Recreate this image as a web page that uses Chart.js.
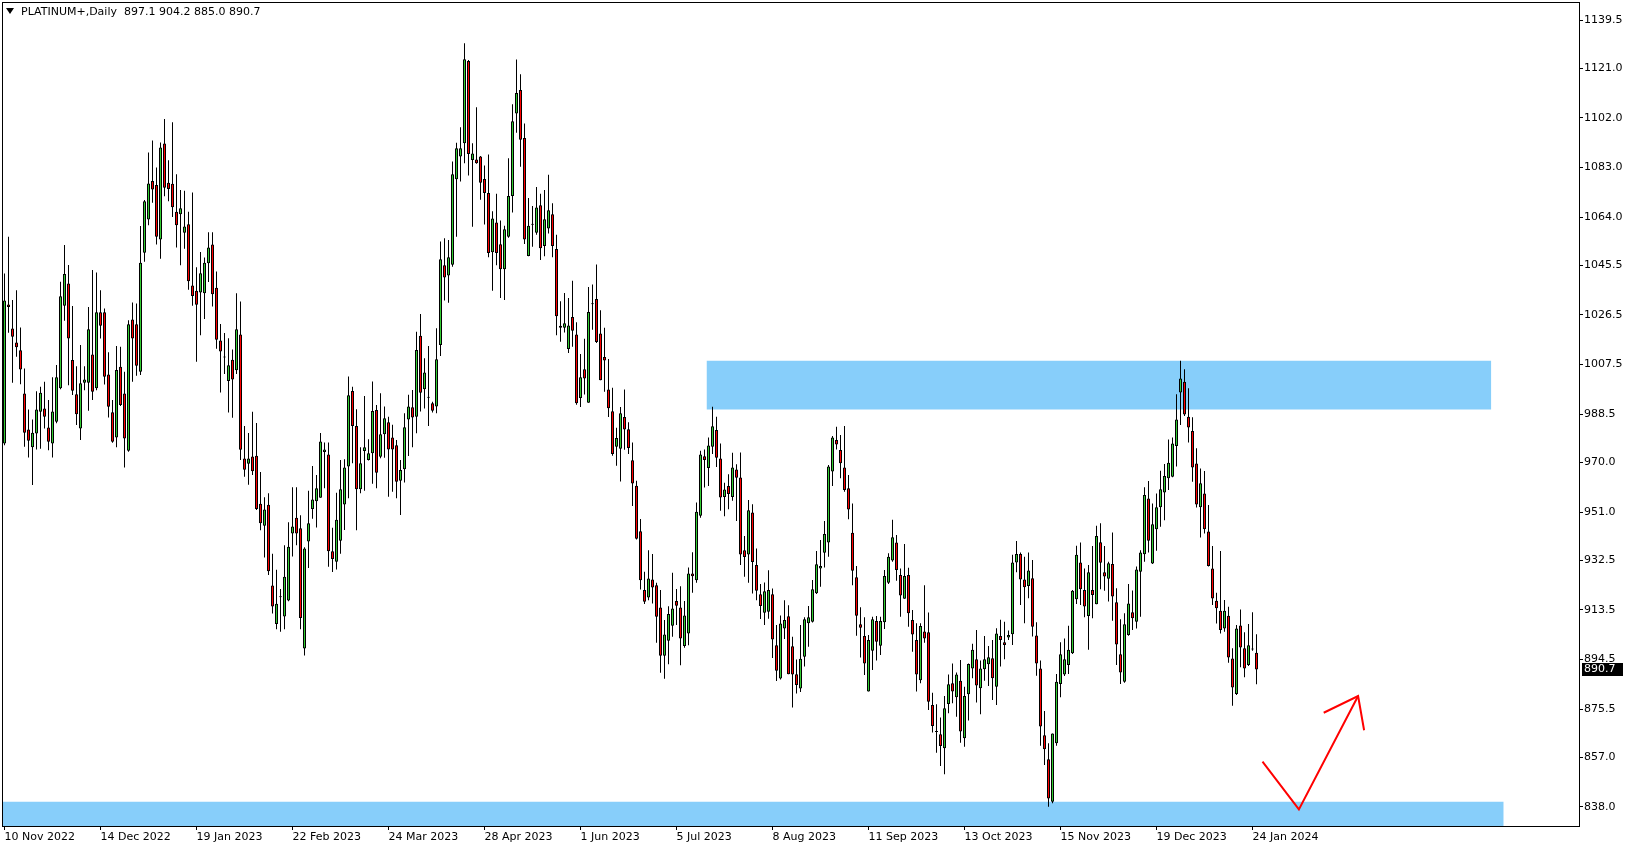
<!DOCTYPE html>
<html>
<head>
<meta charset="utf-8">
<title>PLATINUM+ Daily</title>
<script src="https://cdn.jsdelivr.net/npm/chart.js@4.4.1/dist/chart.umd.min.js"></script>
<style>
  html, body { margin: 0; padding: 0; background: #fff; }
  #wrap { position: relative; width: 1629px; height: 850px; overflow: hidden; }
  #chart { display: block; }
  #header { position: absolute; left: 6px; top: 5px; font: 11px 'DejaVu Sans', sans-serif; line-height: 14px; color: #000; white-space: pre; }
  #header .tri { display: inline-block; width: 0; height: 0; border-left: 4px solid transparent; border-right: 4px solid transparent; border-top: 6px solid #000; margin-right: 7px; vertical-align: 1px; }
</style>
</head>
<body>
<div id="wrap">
  <canvas id="chart" width="1629" height="850"></canvas>
  <div id="header"><span class="tri"></span><span id="headerText"></span></div>
</div>
<script>
// Daily bars, one per trading day starting 10 Nov 2022
const opens = [
  977.3,1030.5,1021.3,1016.0,1013.0,996.4,982.6,975.8,981.1,989.4,
  990.7,983.4,977.3,985.6,998.4,1030.0,1038.6,1009.2,996.1,983.0,
  1000.5,1000.5,1011.4,998.4,1027.5,1027.5,1003.7,989.2,979.6,1006.7,
  996.4,974.5,1024.8,1022.9,1004.7,1050.3,1063.1,1077.8,1076.3,1055.4,
  1092.2,1077.2,1076.8,1066.0,1065.1,1058.0,1061.3,1037.8,1035.8,1035.1,
  1034.8,1046.3,1053.5,1036.9,1016.7,1010.4,1001.2,1009.3,1005.3,1019.0,
  971.5,969.5,972.3,972.6,954.2,945.7,953.8,922.9,908.1,918.6,
  911.0,917.1,942.8,948.8,944.8,898.7,939.7,952.2,955.1,956.5,
  974.0,973.0,936.0,932.0,940.0,953.9,968.4,997.4,984.0,959.7,
  974.4,970.9,973.5,990.1,972.2,980.8,985.4,979.6,976.6,963.0,
  967.4,986.5,991.1,987.5,1018.5,998.0,994.8,992.7,991.4,1015.0,
  1045.5,1041.6,1045.7,1078.5,1087.2,1092.3,1123.8,1085.9,1086.1,1087.2,
  1078.6,1073.2,1050.5,1061.9,1053.6,1044.0,1056.5,1072.1,1103.7,1112.7,
  1094.3,1049.1,1061.2,1058.0,1068.5,1052.9,1059.6,1065.1,1051.8,1022.4,
  1021.6,1013.5,1025.7,1019.0,994.7,1005.7,992.9,1030.7,1032.6,1019.4,
  1010.4,997.9,989.6,976.0,975.2,987.4,982.7,970.8,961.1,943.6,
  921.1,918.3,925.2,923.0,914.4,895.9,901.7,907.4,916.9,914.4,
  899.7,904.5,927.5,924.9,949.6,972.4,967.9,976.0,982.4,971.5,
  956.8,961.0,956.8,967.3,964.2,936.4,934.7,950.8,930.7,919.5,
  912.4,912.8,919.5,900.0,887.2,906.4,911.1,899.6,888.9,883.4,
  895.6,908.4,909.0,919.9,929.4,935.4,939.3,966.5,978.6,974.8,
  968.1,960.1,943.1,926.0,908.0,903.5,882.2,897.9,909.3,899.8,
  908.8,923.9,932.4,939.3,926.9,917.8,926.9,909.6,902.0,886.6,
  905.2,904.9,877.1,866.9,865.9,860.5,877.5,885.4,880.0,886.4,
  864.3,881.2,891.1,894.6,883.5,890.8,892.7,895.0,884.1,903.5,
  901.1,902.9,904.2,931.7,934.9,925.2,922.7,925.6,903.7,891.1,
  865.5,856.3,840.0,862.4,885.1,888.8,892.4,896.9,917.6,931.7,
  921.1,911.2,921.1,915.7,939.4,927.9,925.4,931.1,916.4,896.5,
  886.0,903.9,912.6,909.0,928.1,934.8,956.2,931.3,944.4,952.8,
  958.5,963.9,964.5,976.3,996.8,1000.9,987.5,982.0,969.6,952.8,
  958.1,943.5,929.4,917.0,913.2,906.4,911.3,894.9,881.3,907.5,
  898.8,892.4,898.4,897.1
];

const highs = [
  1042.4,1056.5,1032.2,1036.0,1021.7,1006.0,990.3,986.5,997.3,999.0,
  1000.9,993.9,1002.6,1007.3,1039.2,1053.3,1045.6,1029.9,1006.9,1015.0,
  1006.9,1029.6,1043.7,1042.8,1036.0,1029.0,1012.2,993.9,1014.6,1014.3,
  1004.7,1024.5,1031.3,1030.9,1060.6,1070.5,1088.7,1093.3,1083.0,1092.6,
  1101.6,1085.8,1100.3,1080.4,1074.4,1074.1,1066.0,1073.4,1044.8,1050.6,
  1048.5,1058.2,1058.2,1043.2,1023.0,1019.6,1017.6,1013.3,1034.8,1031.7,
  984.0,981.3,989.4,985.1,966.3,956.7,958.2,935.0,928.9,921.5,
  938.3,947.1,960.5,960.5,949.8,937.5,959.2,968.6,965.2,981.3,
  977.6,977.6,945.0,958.4,970.9,971.2,1002.9,999.0,990.4,975.8,
  995.5,978.9,1001.0,992.0,996.5,991.4,987.5,984.4,978.6,970.9,
  988.8,995.9,997.8,1020.1,1026.9,1009.9,1014.6,993.3,1021.4,1054.6,
  1055.9,1055.2,1085.3,1092.5,1098.4,1130.6,1124.2,1092.3,1106.1,1087.4,
  1083.8,1088.0,1066.2,1072.9,1062.7,1060.7,1086.5,1107.2,1124.4,1118.7,
  1099.9,1071.3,1068.2,1075.5,1072.9,1074.4,1080.2,1069.3,1057.2,1031.8,
  1034.9,1033.0,1039.6,1023.7,1011.5,1017.4,1037.2,1038.2,1045.8,1028.3,
  1021.6,1009.6,998.6,983.3,991.2,997.9,985.4,977.6,963.0,948.3,
  928.1,936.4,934.9,923.9,921.1,909.6,914.9,927.7,921.5,922.6,
  916.9,929.8,935.6,954.7,974.5,975.0,979.6,991.3,987.5,977.3,
  962.2,965.5,973.7,969.3,973.8,941.8,955.6,954.0,937.0,923.4,
  924.0,928.7,921.7,907.7,911.4,917.2,915.3,903.2,894.5,907.7,
  910.7,915.0,925.0,936.1,940.3,947.6,969.0,980.1,983.7,980.5,
  984.0,965.2,954.3,930.3,914.5,910.7,903.9,910.9,911.2,910.9,
  928.8,935.2,948.0,942.2,929.4,938.8,929.7,913.5,908.4,908.4,
  923.0,912.5,881.8,877.4,872.3,880.5,888.8,893.0,889.5,894.3,
  884.1,893.0,900.5,905.8,894.1,903.5,899.7,902.0,906.5,909.7,
  909.0,905.6,934.6,939.9,935.5,933.9,935.5,932.6,908.8,894.1,
  874.8,862.4,866.2,889.0,901.1,902.6,907.4,921.1,938.1,939.3,
  929.4,930.7,938.0,945.7,946.7,938.0,932.0,943.2,921.8,909.9,
  912.2,923.4,920.9,930.1,936.4,960.5,962.9,954.3,958.1,966.8,
  969.4,978.8,979.6,996.1,1009.0,1005.7,998.4,987.3,975.4,967.7,
  966.7,953.7,938.0,920.1,936.1,917.3,914.7,898.8,907.7,913.7,
  904.9,908.1,912.6,904.2
];

const lows = [
  976.6,1019.7,1000.5,1010.5,1000.0,976.0,971.9,961.4,975.0,975.2,
  983.0,974.7,971.9,985.0,998.0,1024.3,999.6,995.8,984.3,978.6,
  997.7,989.8,993.9,997.7,1017.5,999.9,987.2,977.5,975.8,991.6,
  968.1,974.1,1000.9,1003.2,1003.5,1046.9,1060.9,1069.5,1053.5,1048.0,
  1072.0,1070.1,1064.0,1052.3,1045.5,1051.9,1036.2,1030.0,1008.6,1018.7,
  1025.0,1039.1,1029.7,1013.6,996.8,1003.9,989.1,987.1,1003.9,970.9,
  964.5,961.5,965.2,951.8,944.0,933.6,926.9,912.1,906.1,905.1,
  906.1,916.8,934.0,938.3,906.1,896.0,929.6,948.4,945.1,956.5,
  960.1,930.0,928.0,929.0,935.0,944.1,956.3,969.7,944.0,958.2,
  959.2,970.7,961.8,960.1,971.6,971.8,956.9,958.8,956.3,949.9,
  962.3,972.5,975.8,981.2,989.5,990.7,984.0,989.1,988.8,1010.8,
  1032.0,1031.2,1045.0,1056.5,1077.6,1084.6,1079.9,1060.3,1084.4,1070.6,
  1061.2,1048.6,1035.8,1045.5,1033.0,1032.2,1056.1,1065.8,1096.3,1083.3,
  1053.7,1049.0,1052.6,1057.2,1047.6,1049.0,1057.7,1048.6,1018.7,1016.2,
  1019.8,1011.9,1014.3,992.1,991.2,996.0,992.9,1020.8,1015.8,1001.5,
  997.1,987.4,972.6,968.7,962.7,974.9,973.2,953.3,940.5,921.3,
  915.8,917.2,916.0,900.9,889.4,887.1,892.7,903.2,907.7,892.3,
  899.0,900.0,920.1,923.9,948.8,960.4,961.0,973.2,968.3,951.5,
  949.4,952.1,955.3,947.6,930.7,926.2,923.9,919.8,917.2,910.0,
  907.7,910.1,895.1,886.3,886.8,902.4,888.9,876.1,881.5,882.1,
  891.8,899.4,908.7,919.6,922.4,929.8,933.9,961.0,975.0,963.9,
  958.8,948.2,923.0,903.6,895.3,888.6,882.2,890.5,894.1,896.2,
  906.2,923.4,932.0,924.7,910.9,917.8,907.1,897.5,882.2,885.4,
  900.9,875.2,866.5,858.8,853.7,850.5,873.9,877.7,872.6,862.6,
  861.1,871.1,887.3,878.0,873.5,886.4,884.4,879.0,877.1,891.8,
  894.6,902.0,900.1,927.9,915.4,908.4,918.0,903.3,888.3,861.5,
  854.1,838.1,839.4,861.5,880.0,888.2,889.0,896.6,915.8,915.4,
  910.7,898.2,910.3,915.7,921.4,920.8,916.7,909.4,892.4,885.1,
  885.6,903.6,905.8,906.4,910.9,932.0,935.5,931.1,936.2,945.4,
  947.9,959.4,964.3,968.4,984.3,987.8,977.6,962.6,952.7,941.2,
  942.8,930.1,915.4,908.3,904.5,905.1,893.3,876.8,880.9,891.5,
  887.7,892.0,897.9,885.0
];

const closes = [
  1032.0,1029.6,1018.2,1014.1,1005.6,981.4,978.3,981.4,990.3,996.7,
  987.5,977.9,989.5,1002.6,1033.7,1042.2,1017.5,997.5,988.5,1000.3,
  1001.8,1021.0,997.1,1027.5,1022.4,1002.8,991.3,977.9,1005.4,992.0,
  979.2,1022.9,1017.5,1007.0,1046.5,1070.1,1076.9,1074.6,1056.5,1090.7,
  1075.2,1074.8,1067.8,1060.9,1067.4,1060.4,1039.4,1033.8,1030.4,1042.5,
  1046.5,1052.3,1034.4,1017.0,1012.5,1010.2,1007.2,1001.8,1021.0,974.9,
  967.2,971.5,966.6,952.2,946.7,952.0,928.3,914.8,915.9,918.4,
  926.2,937.7,945.5,942.8,910.4,937.0,946.7,955.8,960.1,978.0,
  975.0,936.0,933.0,948.0,959.7,968.1,995.7,984.0,959.7,969.7,
  975.8,973.5,989.7,966.1,980.8,986.9,975.0,975.0,962.6,967.1,
  983.5,991.4,987.2,1013.1,996.7,1004.5,994.9,989.8,1009.5,1047.8,
  1040.9,1048.6,1080.4,1090.4,1090.4,1124.5,1088.2,1088.4,1084.6,1077.2,
  1073.2,1050.2,1063.5,1050.2,1044.0,1059.3,1072.1,1100.7,1111.5,1093.6,
  1055.4,1060.7,1061.1,1067.7,1052.1,1063.2,1066.6,1052.9,1026.0,1021.6,
  1023.3,1022.5,1020.5,992.7,1002.6,1002.2,1027.6,1030.6,1016.1,1001.5,
  1009.1,990.8,973.2,979.4,988.8,982.6,975.5,961.9,940.8,924.9,
  916.6,925.5,922.1,910.9,895.9,904.1,911.9,914.0,915.1,902.6,
  911.4,927.5,926.4,951.1,973.0,970.9,976.5,983.9,971.8,956.6,
  959.6,957.9,968.1,964.1,934.7,933.8,951.7,931.9,920.8,915.0,
  920.7,921.1,902.2,890.2,908.3,909.6,888.9,888.8,884.7,894.8,
  909.9,910.7,921.4,931.0,930.3,942.6,968.4,979.6,976.9,969.7,
  959.4,952.0,928.5,911.3,906.7,893.0,902.0,909.9,901.3,909.3,
  926.5,933.9,941.3,928.8,919.0,926.5,912.2,904.1,888.8,907.3,
  902.6,878.3,869.0,866.7,861.4,875.8,885.0,882.2,888.8,866.9,
  880.5,892.8,898.2,884.5,891.1,894.6,895.4,887.3,904.5,902.0,
  900.1,903.9,931.7,934.9,925.2,922.2,928.6,907.1,893.0,868.8,
  860.1,841.3,866.2,886.0,896.5,894.6,898.2,920.8,934.6,921.4,
  914.8,927.9,919.2,941.8,931.6,926.3,931.4,918.6,900.3,889.5,
  908.0,916.0,910.3,929.0,935.5,957.5,940.0,946.3,952.8,959.7,
  964.8,969.9,977.3,986.5,1002.2,988.4,983.4,968.1,953.9,962.0,
  944.4,930.3,917.9,914.1,905.8,913.2,895.3,883.8,906.4,899.1,
  891.1,900.0,898.3,890.7
];

// Date labels and the bar they sit on
const dateIndex = [0, 24, 48, 72, 96, 120, 144, 168, 192, 216, 240, 264, 288, 312];
const dateLabels = ['10 Nov 2022', '14 Dec 2022', '19 Jan 2023', '22 Feb 2023', '24 Mar 2023', '28 Apr 2023',
  '1 Jun 2023', '5 Jul 2023', '8 Aug 2023', '11 Sep 2023', '13 Oct 2023', '15 Nov 2023', '19 Dec 2023', '24 Jan 2024'];

const priceTicks = [1139.5, 1121.0, 1102.0, 1083.0, 1064.0, 1045.5, 1026.5, 1007.5, 988.5,
  970.0, 951.0, 932.5, 913.5, 894.5, 875.5, 857.0, 838.0];

// Drawn objects: zones as [fromBar, toBar, lowPrice, highPrice]
const resistanceZone = [175.5, 371.7, 990.3, 1009.0];
const supportZone = [-2, 374.8, 820.0, 840.0];
const arrowBars = [314.5, 323.6, 338.4];
const arrowPrices = [855.4, 837.1, 880.5];
const arrowHeadBars = [329.8, 338.4, 339.9];
const arrowHeadPrices = [874.1, 880.5, 867.4];

const symbolName = 'PLATINUM+,Daily';

const last = closes.length - 1;
document.getElementById('headerText').textContent =
  `${symbolName}  ${opens[last].toFixed(1)} ${highs[last].toFixed(1)} ${lows[last].toFixed(1)} ${closes[last].toFixed(1)}`;

const BULL = '#32cd32';
const BEAR = '#ff0000';
const ZONE = '#87cefa';

Chart.defaults.font.family = "'DejaVu Sans', sans-serif";
Chart.defaults.font.size = 11;
Chart.defaults.color = '#000';

const bars = closes.map((c, i) => i);
const bodyData = bars.map(i => ({ x: i, y: [opens[i], closes[i]] }));
const wickData = bars.map(i => ({ x: i, y: [lows[i], highs[i]] }));
const bodyColors = bars.map(i => closes[i] >= opens[i] ? BULL : BEAR);

function zoneDataset(zone) {
  return {
    type: 'line',
    data: [{ x: zone[0], y: zone[3] }, { x: zone[1], y: zone[3] }],
    fill: { value: zone[2] },
    backgroundColor: ZONE,
    borderWidth: 0,
    pointRadius: 0,
    order: 5
  };
}

function lineDataset(xs, ys) {
  return {
    type: 'line',
    data: xs.map((x, k) => ({ x: x, y: ys[k] })),
    borderColor: '#ff0000',
    borderWidth: 2,
    pointRadius: 0,
    fill: false,
    tension: 0,
    order: 0
  };
}

// Frame around the plot and the last price tag on the axis
const framePlugin = {
  id: 'frame',
  afterDraw(chart) {
    const { ctx, chartArea } = chart;
    ctx.save();
    ctx.strokeStyle = '#000';
    ctx.lineWidth = 1;
    ctx.strokeRect(chartArea.left + 0.5, chartArea.top + 0.5,
      chartArea.right - chartArea.left, chartArea.bottom - chartArea.top);

    const y = Math.round(chart.scales.y.getPixelForValue(closes[last]));
    ctx.fillStyle = '#000';
    ctx.fillRect(chartArea.right + 3, y - 6, 41, 13);
    ctx.fillStyle = '#fff';
    ctx.font = "11px 'DejaVu Sans', sans-serif";
    ctx.textBaseline = 'middle';
    ctx.textAlign = 'left';
    ctx.fillText(closes[last].toFixed(1), chartArea.right + 5, y + 0.5);
    ctx.restore();
  }
};

new Chart(document.getElementById('chart'), {
  type: 'bar',
  data: {
    datasets: [
      {
        data: bodyData,
        backgroundColor: bodyColors,
        borderColor: '#000',
        borderWidth: 1,
        borderSkipped: false,
        barThickness: 3,
        minBarLength: 1,
        inflateAmount: 0,
        grouped: false,
        order: 1
      },
      {
        data: wickData,
        backgroundColor: '#000',
        borderWidth: 0,
        barThickness: 1,
        inflateAmount: 0,
        grouped: false,
        order: 2
      },
      zoneDataset(resistanceZone),
      zoneDataset(supportZone),
      lineDataset(arrowBars, arrowPrices),
      lineDataset(arrowHeadBars, arrowHeadPrices)
    ]
  },
  options: {
    responsive: false,
    animation: false,
    events: [],
    layout: { padding: { left: 2, top: 2, right: 0, bottom: 0 } },
    plugins: {
      legend: { display: false },
      tooltip: { enabled: false },
      title: { display: false }
    },
    scales: {
      x: {
        type: 'linear',
        min: -0.625,
        max: 393.625,
        offset: false,
        border: { display: false },
        grid: { drawOnChartArea: false, drawTicks: true, tickLength: 4, color: '#000', offset: false },
        ticks: {
          autoSkip: false,
          maxRotation: 0,
          align: 'start',
          padding: 1,
          color: '#000',
          callback: v => dateLabels[dateIndex.indexOf(v)]
        },
        afterBuildTicks: scale => { scale.ticks = dateIndex.map(v => ({ value: v })); },
        afterFit: scale => { scale.height = 24; }
      },
      y: {
        position: 'right',
        min: 830.72,
        max: 1146.40,
        border: { display: false },
        grid: { drawOnChartArea: false, drawTicks: true, tickLength: 4, color: '#000' },
        ticks: {
          autoSkip: false,
          padding: 1,
          color: '#000',
          font: { lineHeight: 0.01 },
          callback: v => v.toFixed(1)
        },
        afterBuildTicks: scale => { scale.ticks = priceTicks.map(v => ({ value: v })); },
        afterFit: scale => { scale.width = 50; }
      }
    }
  },
  plugins: [framePlugin]
});
</script>
</body>
</html>
